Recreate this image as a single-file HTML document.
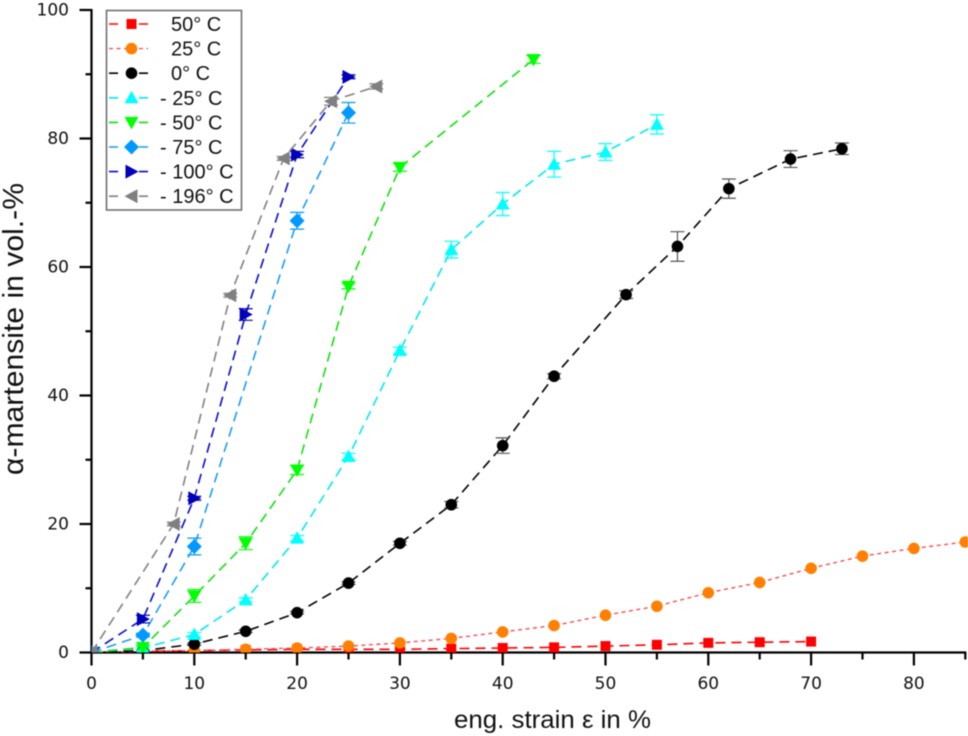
<!DOCTYPE html>
<html lang="en">
<head>
<meta charset="utf-8">
<title>Martensite vs strain</title>
<style>
html,body{margin:0;padding:0;background:#fff}
#chart{display:block;filter:blur(0.4px)}
text{fill:#111}
.tick{font:17px "DejaVu Sans",sans-serif}
.xt{font:25px "Liberation Sans",sans-serif}
.yt{font:29px "Liberation Sans",sans-serif}
.leg{font:20px "Liberation Sans",sans-serif}
</style>
</head>
<body>
<svg id="chart" xmlns="http://www.w3.org/2000/svg" width="968" height="736" viewBox="0 0 968 736"></svg>
<script>
const xTicks = [0,10,20,30,40,50,60,70,80];
const xMinor = [5,15,25,35,45,55,65,75,85];
const yTicks = [0,20,40,60,80,100];
const yMinor = [10,30,50,70,90];

const names = ["50° C","25° C","0° C","- 25° C","- 50° C","- 75° C","- 100° C","- 196° C"];

const x50 = [0,5,10,15,20,25,30,35,40,45,50,55,60,65,70];
const y50 = [0.1,0.2,0.3,0.4,0.5,0.5,0.5,0.6,0.7,0.8,1.0,1.2,1.5,1.6,1.7];
const e50 = [0,0,0,0,0,0,0,0,0,0,0,0,0,0,0];

const x25 = [0,5,10,15,20,25,30,35,40,45,50,55,60,65,70,75,80,85];
const y25 = [0,0.2,0.3,0.5,0.7,1.0,1.5,2.2,3.2,4.2,5.8,7.2,9.3,10.9,13.1,15,16.2,17.2];
const e25 = [0,0,0,0,0,0,0,0,0,0,0,0,0,0,0,0,0,0];

const x0 = [0,5,10,15,20,25,30,35,40,45,52,57,62,68,73];
const y0 = [0,0.3,1.3,3.3,6.2,10.8,17,23,32.2,43,55.7,63.2,72.2,76.8,78.4];
const e0 = [0,0,0.2,0.2,0.2,0.2,0.3,0.5,1.2,0.4,0.6,2.3,1.5,1.3,0.9];

const xm25 = [0,5,10,15,20,25,30,35,40,45,50,55];
const ym25 = [0,0.7,2.8,8.2,17.8,30.5,47,62.7,69.8,76,77.9,82.2];
const em25 = [0,0.2,0.3,0.3,0.4,0.5,0.5,1.3,1.8,2,1.3,1.5];

const xm50 = [0,5,10,15,20,25,30,43];
const ym50 = [0,0.8,8.8,17,28.4,57,75.5,92.3];
const em50 = [0,0.3,1,1,0.7,0.4,0.6,0.6];

const xm75 = [0,5,10,20,25];
const ym75 = [0,2.7,16.5,67.2,84];
const em75 = [0,0.3,1.3,1.3,1.6];

const xm100 = [0,5,10,15,20,25];
const ym100 = [0,5.2,24,52.6,77.5,89.6];
const em100 = [0,0.6,0.3,0.9,0.5,0.3];

const xm196 = [0,8,13.5,18.7,23.3,27.7];
const ym196 = [0,20,55.6,76.9,85.8,88.1];
const em196 = [0,0.3,0.3,0.3,0.6,0.4];

const X = v => 91.5 + v * 10.28;
const Y = v => 652.5 - v * 6.425;

const svg = document.getElementById('chart');
const NS = 'http://www.w3.org/2000/svg';
function mk(tag, attrs, parent, text){
  const e = document.createElementNS(NS, tag);
  for (const k in attrs) e.setAttribute(k, attrs[k]);
  if (text !== undefined) e.textContent = text;
  (parent || svg).appendChild(e);
  return e;
}

const defs = mk('defs', {});
const clip = mk('clipPath', {id:'plot-clip'}, defs);
mk('rect', {x:X(0), y:0, width:900, height:Y(0)}, clip);

function marker(parent, kind, cx, cy, color){
  let e;
  if (kind === 'square') {
    e = mk('rect', {x:cx-5, y:cy-5, width:10, height:10, fill:color}, parent);
  } else if (kind === 'circle') {
    e = mk('circle', {cx:cx, cy:cy, r:5.8, fill:color}, parent);
  } else if (kind === 'up') {
    e = mk('polygon', {points:`${cx-7},${cy+5.5} ${cx+7},${cy+5.5} ${cx},${cy-7}`, fill:color}, parent);
  } else if (kind === 'down') {
    e = mk('polygon', {points:`${cx-7},${cy-5.5} ${cx+7},${cy-5.5} ${cx},${cy+7}`, fill:color}, parent);
  } else if (kind === 'diamond') {
    e = mk('polygon', {points:`${cx-7.5},${cy} ${cx},${cy-7.5} ${cx+7.5},${cy} ${cx},${cy+7.5}`, fill:color}, parent);
  } else if (kind === 'right') {
    e = mk('polygon', {points:`${cx-6},${cy-7} ${cx-6},${cy+7} ${cx+7},${cy}`, fill:color}, parent);
  } else {
    e = mk('polygon', {points:`${cx+6},${cy-7} ${cx+6},${cy+7} ${cx-7},${cy}`, fill:color}, parent);
  }
  
  
  return e;
}

const series = [
  {key:'50c', xs:x50, ys:y50, es:e50, kind:'square', color:'#ff0000', line:'#ff0000', dash:'10 6', w:1.6},
  {key:'25c', xs:x25, ys:y25, es:e25, kind:'circle', color:'#ff8000', line:'#f5505a', dash:'4 3.5', w:1.4},
  {key:'0c', xs:x0, ys:y0, es:e0, kind:'circle', color:'#000000', line:'#000000', dash:'10 6', w:1.6, cap:'#555'},
  {key:'m25c', xs:xm25, ys:ym25, es:em25, kind:'up', color:'#00ffff', line:'#00e8f0', dash:'10 6', w:1.6},
  {key:'m50c', xs:xm50, ys:ym50, es:em50, kind:'down', color:'#00ff00', line:'#10e010', dash:'10 6', w:1.6},
  {key:'m75c', xs:xm75, ys:ym75, es:em75, kind:'diamond', color:'#0099ff', line:'#1a9cf5', dash:'10 6', w:1.6},
  {key:'m100c', xs:xm100, ys:ym100, es:em100, kind:'right', color:'#0000b8', line:'#0a0ad0', dash:'10 6', w:1.6},
  {key:'m196c', xs:xm196, ys:ym196, es:em196, kind:'left', color:'#808080', line:'#808080', dash:'10 6', w:1.6}
];

/* axes */
const axes = mk('g', {stroke:'#000', 'stroke-width':2.2, fill:'none'});


const yAxisLine = mk('line', {x1:X(0), y1:Y(100)-1, x2:X(0), y2:Y(0)+1}, axes);


const xAxisLine = mk('line', {x1:X(0)-1, y1:Y(0), x2:X(85)+1, y2:Y(0)}, axes);



xTicks.forEach(v => {
  const t = mk('line', {x1:X(v), y1:Y(0), x2:X(v), y2:Y(0)+13}, axes);
  
  
  const l = mk('text', {x:X(v), y:689, 'text-anchor':'middle', class:'tick'}, svg, String(v));
  
  
});
xMinor.forEach(v => {
  const t = mk('line', {x1:X(v), y1:Y(0), x2:X(v), y2:Y(0)+7}, axes);
  
  
});
yTicks.forEach(v => {
  const t = mk('line', {x1:X(0)-12, y1:Y(v), x2:X(0), y2:Y(v)}, axes);
  
  
  const l = mk('text', {x:69, y:Y(v)+5.5, 'text-anchor':'end', class:'tick'}, svg, String(v));
  
  
});
yMinor.forEach(v => {
  const t = mk('line', {x1:X(0)-6, y1:Y(v), x2:X(0), y2:Y(v)}, axes);
  
  
});

const xTitle = mk('text', {x:552.5, y:728, 'text-anchor':'middle', class:'xt', textLength:197, lengthAdjust:'spacingAndGlyphs'}, svg, 'eng. strain ε in %');


const yTitle = mk('text', {x:0, y:0, 'text-anchor':'middle', class:'yt', textLength:292, lengthAdjust:'spacingAndGlyphs', transform:'translate(23,329) rotate(-90)'}, svg, 'α-martensite in vol.-%');



/* series */
series.forEach(s => {
  const g = mk('g', {'clip-path':'url(#plot-clip)'});
  
  
  const pts = s.xs.map((v,i) => X(v).toFixed(1) + ',' + Y(s.ys[i]).toFixed(1)).join(' ');
  const line = mk('polyline', {points:pts, fill:'none', stroke:s.line, 'stroke-width':s.w, 'stroke-dasharray':s.dash}, g);
  
  
  s.xs.forEach((v,i) => {
    const e = s.es[i];
    if (e > 0) {
      const cx = X(v), hi = Y(s.ys[i]+e), lo = Y(s.ys[i]-e);
      const bar = mk('path', {d:`M${cx-7},${hi}H${cx+7}M${cx-7},${lo}H${cx+7}M${cx},${hi}V${lo}`, fill:'none', stroke:s.cap || s.color, 'stroke-width':1.2}, g);
      
      
    }
    marker(g, s.kind, X(v), Y(s.ys[i]), s.color);
  });
});

/* legend */
const lg = mk('g', {});


const box = mk('rect', {x:106.5, y:10.5, width:135, height:199.5, fill:'#fff', stroke:'#707070', 'stroke-width':1.6}, lg);


const rowGap = 24.6;
series.forEach((s,i) => {
  const cy = 24 + i * rowGap;
  const row = mk('g', {}, lg);
  
  
  mk('line', {x1:109, y1:cy, x2:148, y2:cy, stroke:s.line, 'stroke-width':s.w, 'stroke-dasharray': s.key === '25c' ? '4 3.5' : '9 21 9'}, row);
  marker(row, s.kind, 131.5, cy, s.color);
  const neg = names[i].charAt(0) === '-';
  mk('text', {x: neg ? 160 : 171, y: cy + 7, class:'leg'}, row, names[i]);
});
</script>
</body>
</html>
